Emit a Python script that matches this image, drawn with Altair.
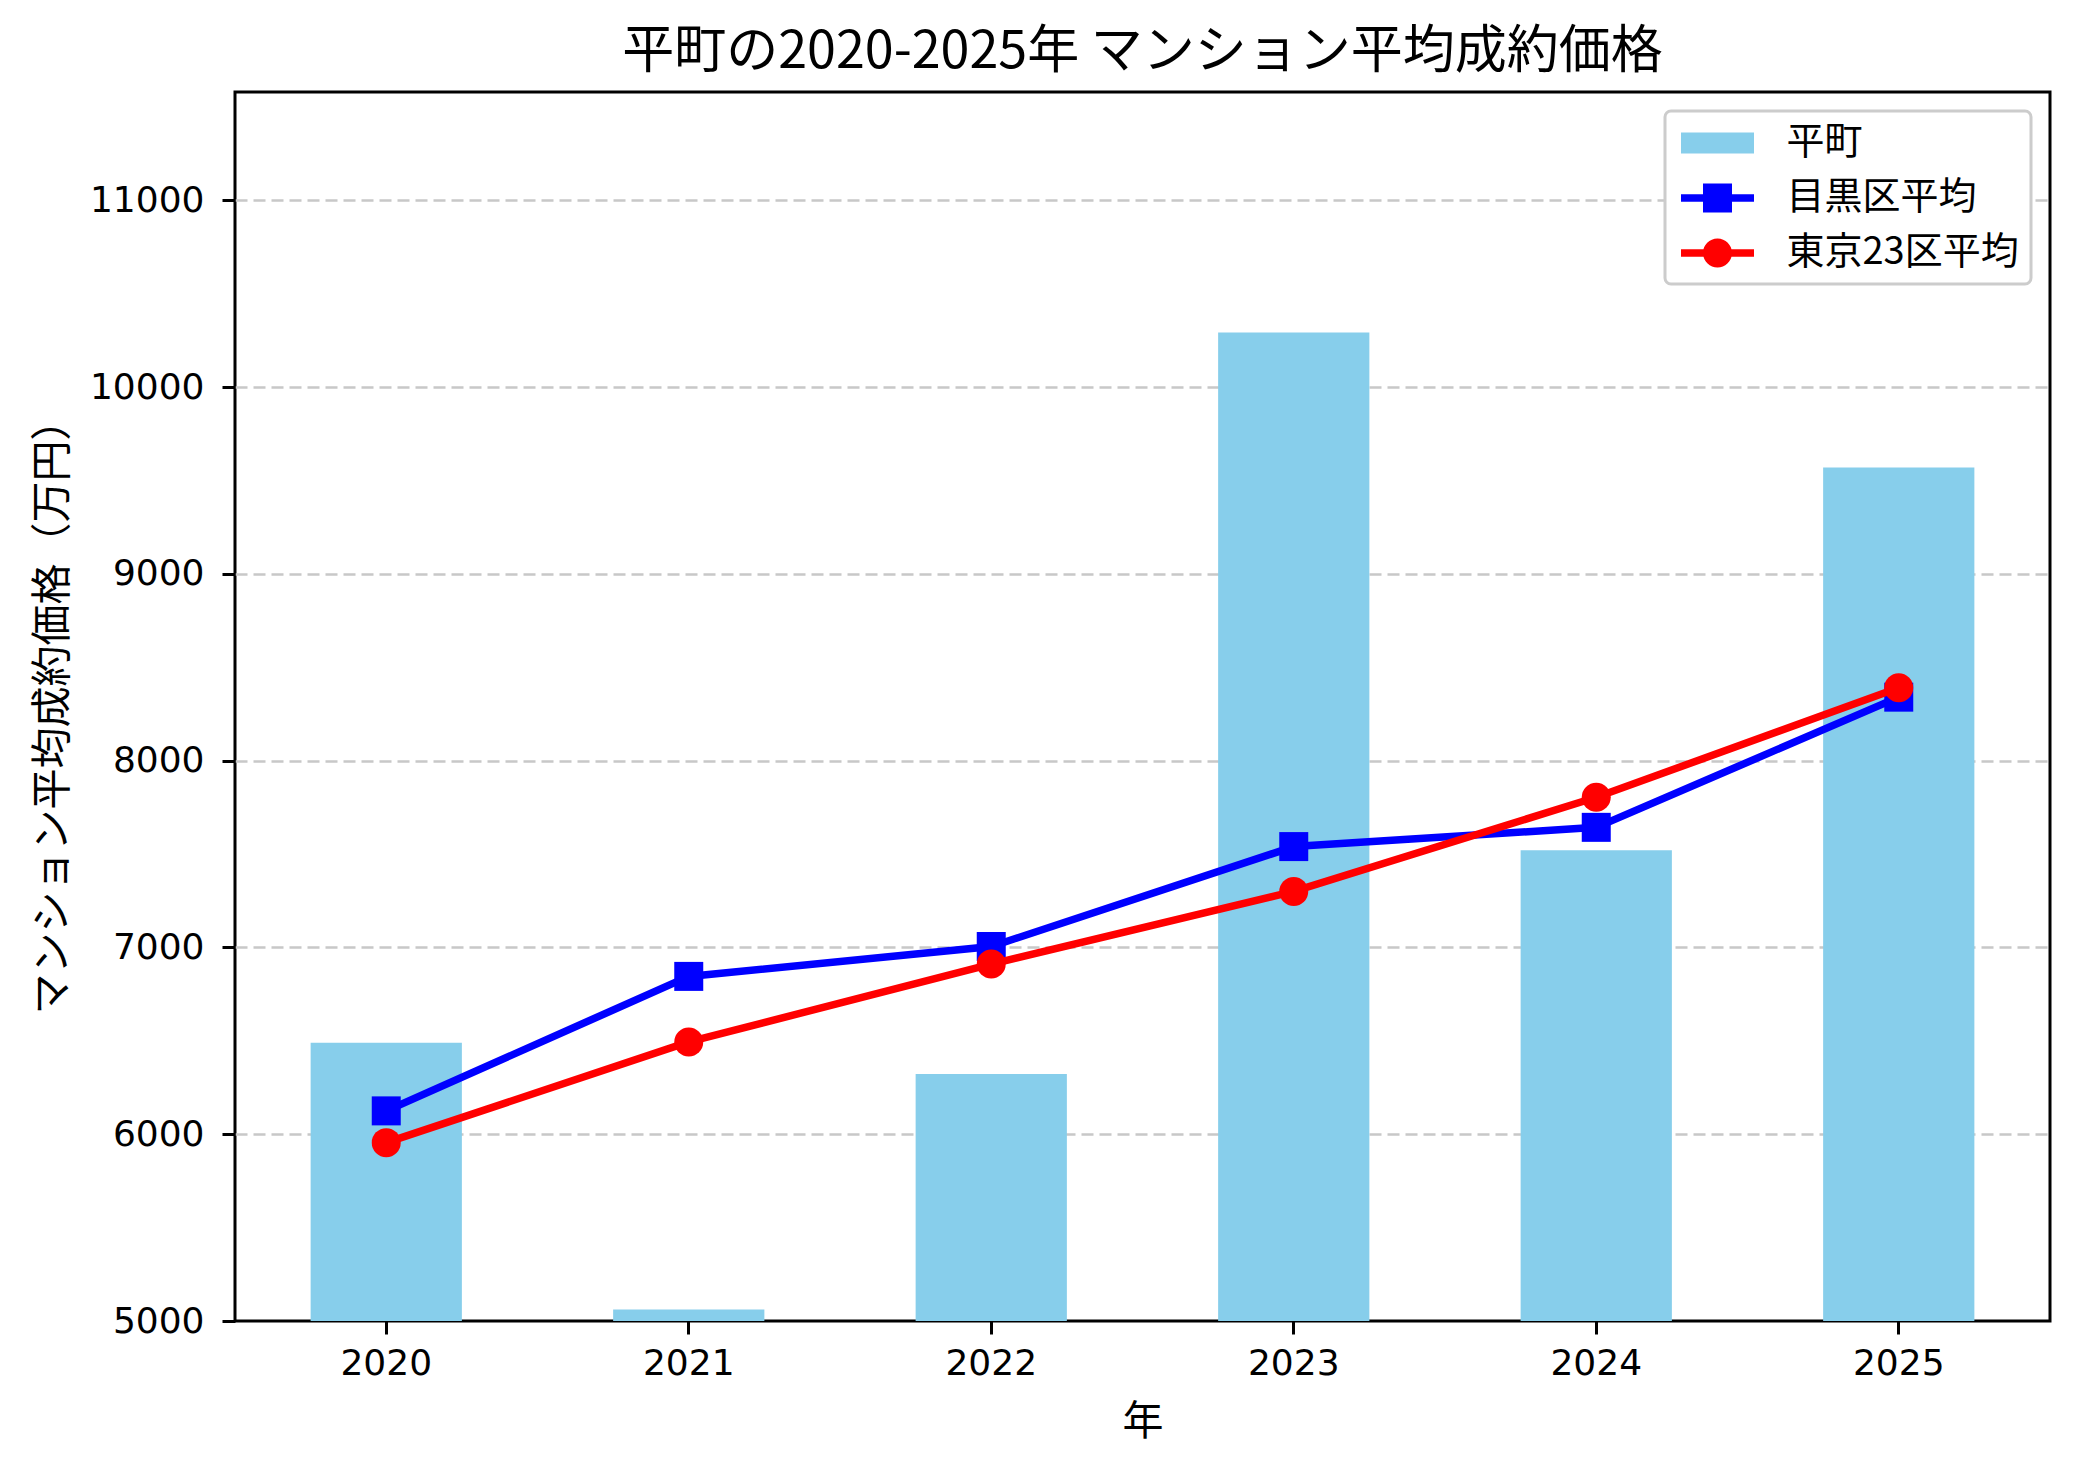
import altair as alt
import pandas as pd

# ---- data ----
years = ["2020", "2021", "2022", "2023", "2024", "2025"]
hiramachi_price = [6490, 5062, 6322, 10292, 7520, 9570]
meguro_avg = [6125, 6845, 7005, 7540, 7643, 8340]
tokyo23_avg = [5955, 6494, 6911, 7300, 7804, 8390]
series_names = ["平町", "目黒区平均", "東京23区平均"]
series_colors = ["#87CEEB", "#0000FF", "#FF0000"]
y_ticks = [5000, 6000, 7000, 8000, 9000, 10000, 11000]
y_domain = [5000, 11580]
title_text = "平町の2020-2025年 マンション平均成約価格"
x_title = "年"
y_title = "マンション平均成約価格（万円）"

FONT = "Noto Sans CJK JP"
TICK_FONT = "DejaVu Sans"

bar_df = pd.DataFrame({"year": years, "value": hiramachi_price})
line_df = pd.DataFrame({
    "year": years * 2,
    "value": meguro_avg + tokyo23_avg,
    "series": [series_names[1]] * len(years) + [series_names[2]] * len(years),
})
legend_df = pd.DataFrame({"series": series_names})

# legend symbols (unit-box paths): bar swatch, line+square, line+circle
legend_paths = [
    "M-1.825,-0.525H1.825V0.525H-1.825Z",
    "M-1.825,-0.1875H1.825V0.1875H-1.825Z M-0.725,-0.725H0.725V0.725H-0.725Z",
    "M-1.825,-0.1875H1.825V0.1875H-1.825Z M-0.725,0A0.725,0.725 0 1,1 0.725,0A0.725,0.725 0 1,1 -0.725,0Z",
]

x_enc = alt.X(
    "year:O",
    scale=alt.Scale(paddingInner=0.5, paddingOuter=0.25),
    axis=alt.Axis(title=x_title, labelAngle=0, titleY=101, titleBaseline="middle",
                  labelPadding=12),
)
y_enc = alt.Y(
    "value:Q",
    scale=alt.Scale(domain=y_domain, nice=False, zero=False),
    axis=alt.Axis(
        title=y_title, values=y_ticks, format="d", grid=True,
        gridDash=[12, 6], gridColor="#c8c8c8", gridWidth=2.5,
        gridOpacity={"condition": {"test": "datum.value <= 5000", "value": 0}, "value": 1},
        titleX=-182, titleBaseline="middle", titleAngle=270, labelPadding=18,
    ),
)

bars = alt.Chart(bar_df).mark_bar(color=series_colors[0], clip=True).encode(x=x_enc, y=y_enc)

meguro_line = alt.Chart(line_df).transform_filter(
    alt.datum.series == series_names[1]
).mark_line(color=series_colors[1], strokeWidth=7.5).encode(x=x_enc, y=y_enc)
meguro_pts = alt.Chart(line_df).transform_filter(
    alt.datum.series == series_names[1]
).mark_square(color=series_colors[1], size=841, opacity=1).encode(x=x_enc, y=y_enc)

tokyo_line = alt.Chart(line_df).transform_filter(
    alt.datum.series == series_names[2]
).mark_line(color=series_colors[2], strokeWidth=7.5).encode(x=x_enc, y=y_enc)
tokyo_pts = alt.Chart(line_df).transform_filter(
    alt.datum.series == series_names[2]
).mark_circle(color=series_colors[2], size=841, opacity=1).encode(x=x_enc, y=y_enc)

legend_layer = alt.Chart(legend_df).transform_filter("false").mark_point(
    filled=True, opacity=1
).encode(
    color=alt.Color("series:N", scale=alt.Scale(domain=series_names, range=series_colors),
                    legend=alt.Legend(title=None)),
    shape=alt.Shape("series:N", scale=alt.Scale(domain=series_names, range=legend_paths),
                    legend=alt.Legend(title=None)),
)

chart = alt.layer(
    bars, meguro_line, meguro_pts, tokyo_line, tokyo_pts, legend_layer
).properties(
    width=1815,
    height=1229,
    title=alt.TitleParams(title_text),
    autosize=alt.AutoSizeParams(type="none"),
    padding={"left": 227, "top": 84, "right": 22, "bottom": 145},
).configure_view(
    stroke="black", strokeWidth=3
).configure_axis(
    domain=False, tickColor="black", tickWidth=3, tickSize=13,
    labelFont=TICK_FONT, labelFontSize=36, labelColor="black",
    titleFont=FONT, titleFontSize=41, titleFontWeight="normal", titleColor="black",
).configure_title(
    font=FONT, fontSize=52, fontWeight="normal", color="black",
    anchor="middle", baseline="bottom", offset=13,
).configure_legend(
    orient="top-right", offset=19, padding=12,
    fillColor="white", strokeColor="#cccccc", strokeWidth=3, cornerRadius=6,
    symbolSize=1600, symbolStrokeWidth=0, symbolOffset=20.5,
    labelOffset=49, rowPadding=16, labelFont=FONT, labelFontSize=38,
    labelColor="black", labelLimit=500,
)

chart.save("out.html", embed_options={"renderer": "svg", "actions": False})
